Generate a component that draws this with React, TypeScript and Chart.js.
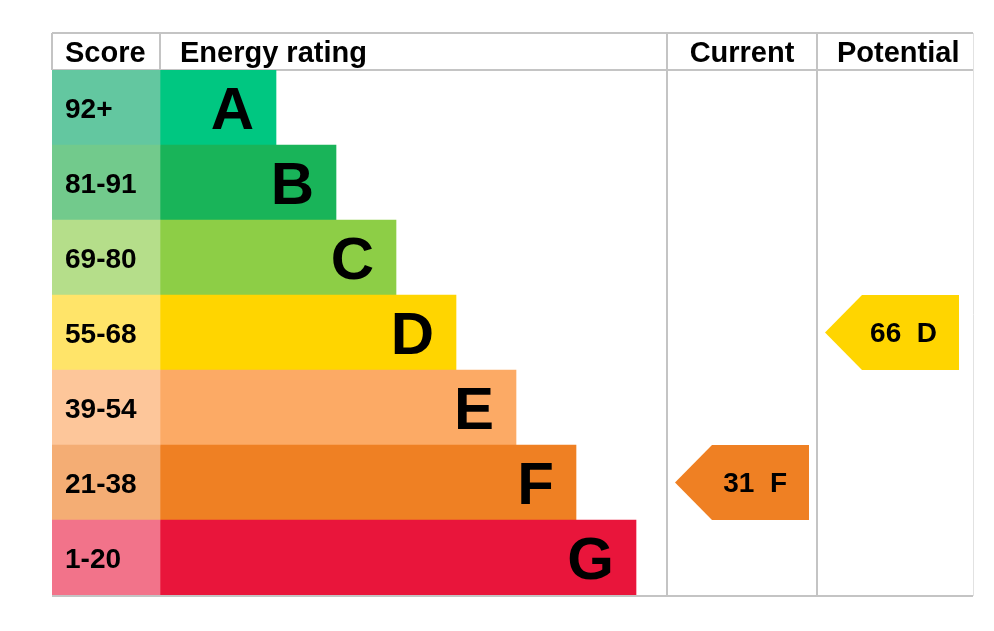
import { useEffect, useRef } from "react";
import { Chart, registerables } from "chart.js";

Chart.register(...registerables);

// energy bands, top (best) to bottom (worst)
const bands = ["A", "B", "C", "D", "E", "F", "G"];
const scoreRanges = ["92+", "81-91", "69-80", "55-68", "39-54", "21-38", "1-20"];
// length of each band bar, in x-scale units
const bandLengths = [116, 176, 236, 296, 356, 416, 476];

const ratingColumns = ["Current", "Potential"];
const ratingScores = [31, 66];
const ratingBands = ["F", "D"];

const bandColors = ["#00c781", "#19b459", "#8dce46", "#ffd500", "#fcaa65", "#ef8023", "#e9153b"];
const scoreColors = ["#63c7a0", "#72ca8c", "#b5de8a", "#ffe469", "#fdc69a", "#f4ad74", "#f2738a"];

// x-scale layout (units = px of the chart area)
const SCORE_END = 108;
const COL_EDGES = [615, 765, 921];
const FONT = "'Liberation Sans', Arial, sans-serif";

const tablePlugin = {
  id: "epcTable",
  beforeDatasetsDraw(chart: any) {
    const { ctx, chartArea, scales } = chart;
    const x = scales.x;
    const top = chartArea.top - 37;
    const bottom = chartArea.bottom + 1;
    const left = chartArea.left;
    const right = x.getPixelForValue(COL_EDGES[2]);
    ctx.save();
    ctx.strokeStyle = "#c4c4c4";
    ctx.lineWidth = 2;
    const line = (x1: number, y1: number, x2: number, y2: number) => {
      ctx.beginPath();
      ctx.moveTo(x1, y1);
      ctx.lineTo(x2, y2);
      ctx.stroke();
    };
    line(left, top, right, top);
    line(left, chartArea.top, right, chartArea.top);
    line(left, bottom, right, bottom);
    line(left, top, left, chartArea.top);
    line(x.getPixelForValue(SCORE_END), top, x.getPixelForValue(SCORE_END), chartArea.top);
    line(x.getPixelForValue(COL_EDGES[0]), top, x.getPixelForValue(COL_EDGES[0]), bottom);
    line(x.getPixelForValue(COL_EDGES[1]), top, x.getPixelForValue(COL_EDGES[1]), bottom);
    ctx.strokeStyle = "#e2e2e2";
    ctx.lineWidth = 1;
    line(right + 0.5, top, right + 0.5, bottom);

    // headers
    ctx.fillStyle = "#000";
    ctx.font = `bold 29px ${FONT}`;
    const hy = top + 18.5 + 0.358 * 29;
    ctx.textAlign = "left";
    ctx.fillText("Score", left + 13, hy);
    ctx.fillText("Energy rating", x.getPixelForValue(SCORE_END) + 20, hy);
    ctx.textAlign = "center";
    ctx.fillText(
      ratingColumns[0],
      (x.getPixelForValue(COL_EDGES[0]) + x.getPixelForValue(COL_EDGES[1])) / 2,
      hy
    );
    ctx.textAlign = "left";
    ctx.fillText(ratingColumns[1], x.getPixelForValue(COL_EDGES[1]) + 20, hy);
    ctx.restore();
  },
  afterDatasetsDraw(chart: any) {
    const { ctx, chartArea, scales } = chart;
    const x = scales.x;
    const y = scales.y;
    ctx.save();
    ctx.fillStyle = "#000";
    bands.forEach((band, i) => {
      const cy = y.getPixelForValue(i);
      ctx.font = `bold 28px ${FONT}`;
      ctx.textAlign = "left";
      ctx.fillText(scoreRanges[i], chartArea.left + 13, cy + 0.358 * 28);
      ctx.font = `bold 60px ${FONT}`;
      ctx.textAlign = "right";
      ctx.fillText(band, x.getPixelForValue(SCORE_END + bandLengths[i]) - 22, cy + 0.358 * 60);
    });

    // rating arrows
    const rowH = y.getPixelForValue(1) - y.getPixelForValue(0);
    ratingScores.forEach((score, c) => {
      const idx = bands.indexOf(ratingBands[c]);
      const cy = y.getPixelForValue(idx);
      const x0 = x.getPixelForValue(COL_EDGES[c]) + 8;
      const x1 = x.getPixelForValue(COL_EDGES[c]) + 142;
      const t = cy - rowH / 2;
      const b = cy + rowH / 2;
      ctx.fillStyle = bandColors[idx];
      ctx.beginPath();
      ctx.moveTo(x0, cy);
      ctx.lineTo(x0 + 37, t);
      ctx.lineTo(x1, t);
      ctx.lineTo(x1, b);
      ctx.lineTo(x0 + 37, b);
      ctx.closePath();
      ctx.fill();
      ctx.fillStyle = "#000";
      ctx.font = `bold 28px ${FONT}`;
      ctx.textAlign = "right";
      ctx.fillText(`${score}  ${ratingBands[c]}`, x1 - 22, cy + 0.358 * 27);
    });
    ctx.restore();
  },
};

export default function App() {
  const ref = useRef<HTMLCanvasElement>(null);

  useEffect(() => {
    if (!ref.current) return;
    const chart = new Chart(ref.current, {
      type: "bar",
      data: {
        labels: bands,
        datasets: [
          {
            label: "Score",
            data: bands.map(() => [0, SCORE_END]) as any,
            backgroundColor: scoreColors,
            grouped: false,
            barPercentage: 1,
            categoryPercentage: 1,
            borderWidth: 0,
          },
          {
            label: "Energy rating",
            data: bandLengths.map((l) => [SCORE_END, SCORE_END + l]) as any,
            backgroundColor: bandColors,
            grouped: false,
            barPercentage: 1,
            categoryPercentage: 1,
            borderWidth: 0,
          },
        ],
      },
      options: {
        indexAxis: "y",
        animation: false,
        responsive: true,
        maintainAspectRatio: false,
        layout: { padding: { left: 52, right: 21, top: 70, bottom: 36 } },
        scales: {
          x: { type: "linear", min: 0, max: COL_EDGES[2], display: false },
          y: { display: false },
        },
        plugins: {
          legend: { display: false },
          tooltip: { enabled: false },
        },
      },
      plugins: [tablePlugin],
    });
    return () => chart.destroy();
  }, []);

  return (
    <div style={{ position: "fixed", left: 0, top: 0, width: 994, height: 631, background: "#fff" }}>
      <canvas ref={ref} />
    </div>
  );
}
